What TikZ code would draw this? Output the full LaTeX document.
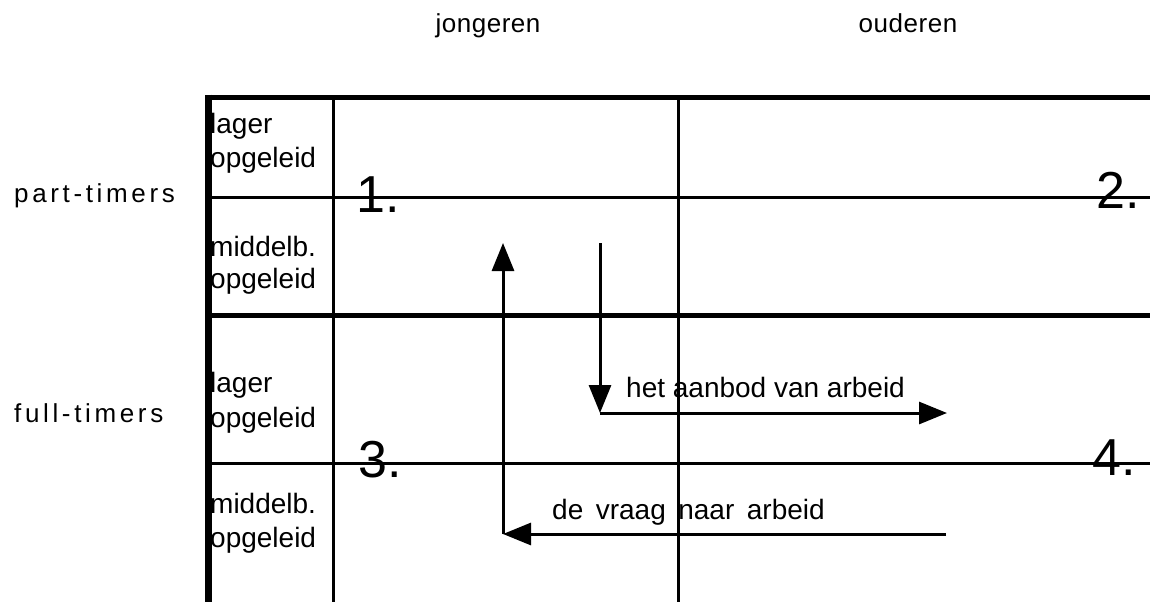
\documentclass[tikz,border=0pt]{standalone}
\usepackage{fontspec}
\setmainfont{Liberation Sans}
\newfontfamily\headfont[LetterSpace=2]{Liberation Sans}
\newfontfamily\rowfont[LetterSpace=14]{Liberation Sans}
\newcommand\widewords{\spaceskip=12.5pt\relax}
\usetikzlibrary{arrows.meta}
\begin{document}
\begin{tikzpicture}[x=1pt,y=-1pt,
  thickrule/.style={line width=5pt},
  thinrule/.style={line width=3pt},
  flow/.style={line width=3pt,-{Triangle[width=22pt,length=28pt]}},
  headtxt/.style={inner sep=0pt,anchor=base,font=\headfont\fontsize{26}{30}\selectfont},
  rowtxt/.style={inner sep=0pt,anchor=base west,font=\rowfont\fontsize{26}{30}\selectfont},
  celltxt/.style={inner sep=0pt,anchor=base west,font=\fontsize{28}{34}\selectfont},
  numtxt/.style={inner sep=0pt,anchor=base west,font=\fontsize{52}{60}\selectfont},
  flowtxt/.style={inner sep=0pt,anchor=base west,font=\fontsize{28}{34}\selectfont}]
\useasboundingbox (0,0) rectangle (1150,602);

% column headings
\node[headtxt] (jong) at (488,33) {jongeren};
\node[headtxt] (oud) at (908,33) {ouderen};

% row headings
\node[rowtxt] (part) at (14,202) {part-timers};
\node[rowtxt] (full) at (14,422) {full-timers};

% grid
\draw[thickrule] (205,97) -- (1150,97);
\draw[thinrule] (208,197) -- (1150,197);
\draw[thickrule] (208,315) -- (1150,315);
\draw[thinrule] (208,463) -- (1150,463);
\draw[line width=7pt] (208.5,94.5) -- (208.5,602);
\draw[thinrule] (333,97) -- (333,602);
\draw[thinrule] (678,97) -- (678,602);

% education levels
\node[celltxt] (l1a) at (210,133) {lager};
\node[celltxt] (l1b) at (210,167) {opgeleid};
\node[celltxt] (m1a) at (210,256) {middelb.};
\node[celltxt] (m1b) at (210,288) {opgeleid};
\node[celltxt] (l2a) at (210,392) {lager};
\node[celltxt] (l2b) at (210,427) {opgeleid};
\node[celltxt] (m2a) at (210,513) {middelb.};
\node[celltxt] (m2b) at (210,547) {opgeleid};

% quadrant numbers
\node[numtxt] (q1) at (356,212) {1.};
\node[numtxt] (q2) at (1096,208) {2.};
\node[numtxt] (q3) at (358,477) {3.};
\node[numtxt] (q4) at (1092,475) {4.};

% supply and demand flows
\coordinate (sTop) at (600,243);
\coordinate (sCorner) at (600,413);
\coordinate (sEnd) at (947,413);
\coordinate (dStart) at (946,534);
\coordinate (dCorner) at (503,534);
\coordinate (dEnd) at (503,243);
\draw[flow] (sTop) -- (sCorner);
\draw[flow] (sCorner) -- (sEnd);
\draw[flow] (dStart) -- (dCorner);
\draw[flow] (dCorner) -- (dEnd);

\node[flowtxt] (aanbod) at (626,397) {het aanbod van arbeid};
\node[flowtxt] (vraag) at (552,519) {\widewords de vraag naar arbeid};
\end{tikzpicture}
\end{document}
